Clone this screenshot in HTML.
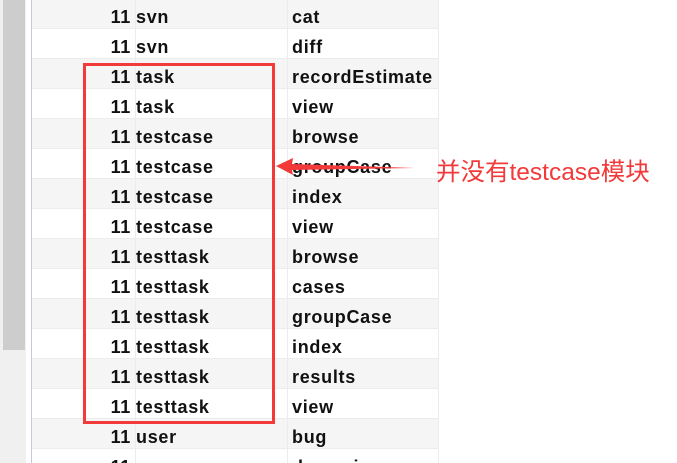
<!DOCTYPE html>
<html style="margin:0;width:677px;height:463px;overflow:hidden"><head><meta charset="utf-8"><style>
body{margin:0;width:677px;height:463px;overflow:hidden;background:#fff;position:relative;font-family:Tahoma,"Liberation Sans",sans-serif}
.r{position:absolute;left:32px;width:407px;height:29px;border-bottom:1px solid #ececec}
.r div{position:absolute;top:3px;height:26px;line-height:30px;font-weight:bold;font-size:18px;letter-spacing:0.7px;color:#111}
.n{left:0;width:99px;text-align:right}
.a{left:104px}
.b{left:260px}
.v1{position:absolute;top:0;width:1px;height:463px;background:#ececec}
</style></head><body>
<div style="position:absolute;left:0;top:0;width:26px;height:463px;background:#f0f0f0"></div>
<div style="position:absolute;left:3px;top:0;width:22px;height:350px;background:#cdcdcd"></div>
<div style="position:absolute;left:31px;top:0;width:2px;height:463px;background:#c8c8dc"></div>
<div id="t" style="position:absolute;left:0;top:0;width:677px;height:463px;overflow:hidden"></div>
<script>
var d=[["svn","cat"],["svn","diff"],["task","recordEstimate"],["task","view"],["testcase","browse"],["testcase","groupCase"],["testcase","index"],["testcase","view"],["testtask","browse"],["testtask","cases"],["testtask","groupCase"],["testtask","index"],["testtask","results"],["testtask","view"],["user","bug"],["user","dynamic"]];
var h="";
d.forEach(function(x,i){h+='<div class="r" style="top:'+(-1+30*i)+'px;background:'+(i%2?'#fff':'#f5f5f5')+'"><div class="n">11</div><div class="a">'+x[0]+'</div><div class="b">'+x[1]+'</div></div>';});
document.getElementById("t").innerHTML=h;
</script>
<div class="v1" style="left:135px"></div>
<div class="v1" style="left:287px"></div>
<div class="v1" style="left:438px"></div>
<div style="position:absolute;left:83px;top:63px;width:186px;height:355px;border:3px solid #f23a3a"></div>
<svg style="position:absolute;left:0;top:0" width="677" height="463">
<polygon points="276,166 293,158 292,164 415,168 292,170 293,175" fill="#f23a3a"/>
</svg>
<div style="position:absolute;left:436px;top:153px;font-size:24.5px;color:#f23a3a;font-family:'Liberation Sans','Noto Sans CJK SC',sans-serif;white-space:nowrap">并没有testcase模块</div>
</body></html>
